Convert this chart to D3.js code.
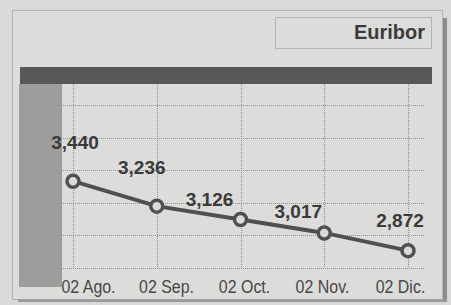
<!DOCTYPE html>
<html>
<head>
<meta charset="utf-8">
<script src="https://cdn.jsdelivr.net/npm/d3@7"></script>
<style>
  body { margin: 0; background: #d9d9d7; }
  svg { display: block; }
</style>
</head>
<body>
<div id="chart"></div>
<script>
var dates = ["02 Ago.", "02 Sep.", "02 Oct.", "02 Nov.", "02 Dic."];
var values = [3.440, 3.236, 3.126, 3.017, 2.872];
var valueLabels = ["3,440", "3,236", "3,126", "3,017", "2,872"];
var title = "Euribor";

var W = 451, H = 305;

var svg = d3.select("#chart")
    .append("svg")
    .attr("width", W)
    .attr("height", H);

// paper background
svg.append("rect").attr("width", W).attr("height", H).attr("fill", "#d9d9d7");

// shadow on right and bottom of the box
svg.append("rect").attr("x", 443).attr("y", 18).attr("width", 4).attr("height", 284).attr("fill", "#8c8c8a");
svg.append("rect").attr("x", 18).attr("y", 299).attr("width", 429).attr("height", 3).attr("fill", "#9a9a98");

// outer dotted frame
svg.append("rect")
    .attr("x", 12.5).attr("y", 10.5).attr("width", 430).attr("height", 289)
    .attr("fill", "#dcdcda")
    .attr("stroke", "#8a8a88").attr("stroke-width", 1)
    .attr("stroke-dasharray", "1,1");

// title box
svg.append("rect")
    .attr("x", 275.5).attr("y", 17.5).attr("width", 156).attr("height", 31)
    .attr("fill", "none")
    .attr("stroke", "#8a8a88").attr("stroke-width", 1)
    .attr("stroke-dasharray", "1,1");

svg.append("text")
    .attr("x", 425).attr("y", 39)
    .attr("text-anchor", "end")
    .style("font-family", "'Liberation Sans', Arial, sans-serif")
    .style("font-weight", "bold")
    .style("font-size", "20px")
    .attr("fill", "#3a3a3a")
    .text(title);

// dark band across the top of the plot
svg.append("rect").attr("x", 20).attr("y", 67).attr("width", 412).attr("height", 17).attr("fill", "#585858");

// grey strip on the left
svg.append("rect").attr("x", 19).attr("y", 84).attr("width", 43).attr("height", 203).attr("fill", "#9d9d9b");

// scales
var x = d3.scalePoint().domain(dates).range([73, 408]);
var xLabel = d3.scalePoint().domain(dates).range([88, 400]);
var yDomain = [2.73, 4.063];
var y = d3.scaleLinear().domain(yDomain).range([268, 105]);

// grid
var yGrid = d3.range(6).map(function (i) { return yDomain[0] + i * (yDomain[1] - yDomain[0]) / 5; });

svg.append("g")
    .selectAll("line")
    .data(yGrid)
    .enter()
    .append("line")
    .attr("x1", 51).attr("x2", 424)
    .attr("y1", function (d) { return Math.round(y(d)) + 0.5; })
    .attr("y2", function (d) { return Math.round(y(d)) + 0.5; })
    .attr("stroke", "#8e8e8c")
    .attr("stroke-width", 1)
    .attr("stroke-dasharray", "1,1");

svg.append("g")
    .selectAll("line")
    .data(dates)
    .enter()
    .append("line")
    .attr("x1", function (d) { return Math.round(x(d)) + 0.5; })
    .attr("x2", function (d) { return Math.round(x(d)) + 0.5; })
    .attr("y1", 84).attr("y2", 268)
    .attr("stroke", "#8e8e8c")
    .attr("stroke-width", 1)
    .attr("stroke-dasharray", "1,1");

// x axis labels (condensed face in the print, so squeeze horizontally)
var xAxis = svg.append("g")
    .attr("transform", "translate(0,268)")
    .call(d3.axisBottom(xLabel).tickSize(0).tickPadding(25));
xAxis.select(".domain").remove();
xAxis.selectAll("text")
    .style("font-family", "'Liberation Sans', Arial, sans-serif")
    .style("font-size", "19px")
    .attr("fill", "#474747")
    .attr("dy", 0)
    .attr("transform", "scale(0.84,1)");

// line
var pts = dates.map(function (d, i) { return { date: d, v: values[i], label: valueLabels[i] }; });

svg.append("path")
    .datum(pts)
    .attr("fill", "none")
    .attr("stroke", "#505050")
    .attr("stroke-width", 4)
    .attr("d", d3.line()
        .x(function (d) { return x(d.date); })
        .y(function (d) { return y(d.v); }));

svg.append("g")
    .selectAll("circle")
    .data(pts)
    .enter()
    .append("circle")
    .attr("cx", function (d) { return x(d.date); })
    .attr("cy", function (d) { return y(d.v); })
    .attr("r", 6)
    .attr("fill", "#dadad8")
    .attr("stroke", "#505050")
    .attr("stroke-width", 3.5);

// value labels, nudged off the line as in the clipping
var labelNudge = [[2, -32], [-15, -32], [-31, -14], [-26, -15], [-8, -24]];

svg.append("g")
    .selectAll("text")
    .data(pts)
    .enter()
    .append("text")
    .attr("x", function (d, i) { return x(d.date) + labelNudge[i][0]; })
    .attr("y", function (d, i) { return y(d.v) + labelNudge[i][1]; })
    .attr("text-anchor", "middle")
    .style("font-family", "'Liberation Sans', Arial, sans-serif")
    .style("font-weight", "bold")
    .style("font-size", "19px")
    .attr("fill", "#3a3a3a")
    .text(function (d) { return d.label; });
</script>
</body>
</html>
